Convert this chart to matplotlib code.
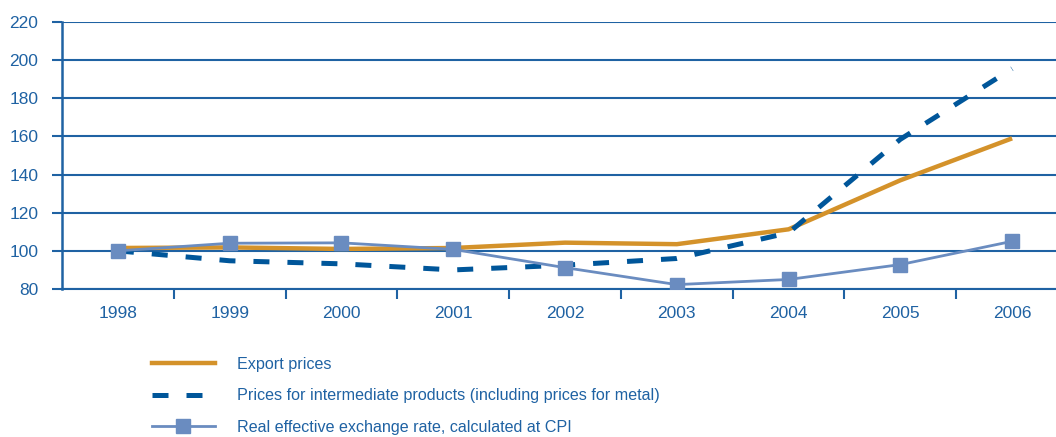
import matplotlib
matplotlib.use("Agg")
import matplotlib.pyplot as plt
from matplotlib.lines import Line2D

years = ["1998", "1999", "2000", "2001", "2002", "2003", "2004", "2005", "2006"]
export_prices = [101.5, 101.8, 101.0, 101.5, 104.3, 103.5, 111.3, 137.0, 159.0]
intermediate_prices = [100.0, 94.8, 93.2, 90.0, 92.5, 96.0, 109.5, 158.5, 195.5]
real_exchange_rate = [100.0, 104.0, 104.2, 100.8, 91.2, 82.3, 85.0, 92.8, 105.0]
y_ticks = [80, 100, 120, 140, 160, 180, 200, 220]

ORANGE = "#D4922A"
DARK = "#00569A"
LIGHT = "#6A8CC0"
AXC = "#1F62A3"

plt.rcParams['font.family'] = ['Liberation Sans Narrow', 'Liberation Sans', 'DejaVu Sans']

W, H = 1056, 437
fig = plt.figure(figsize=(W / 100, H / 100), dpi=100)
left, right, top, bottom = 62, 1068, 22, 289
ax = fig.add_axes([left / W, 1 - bottom / H, (right - left) / W, (bottom - top) / H])

x = list(range(len(years)))
ax.plot(x, export_prices, color=ORANGE, lw=3.2, solid_capstyle='butt', zorder=3)
ax.plot(x, intermediate_prices, color=DARK, lw=3.6, dashes=(3.2, 3.6), zorder=4)
ax.plot(x, real_exchange_rate, color=LIGHT, lw=2.0, marker='s', markersize=10,
        markerfacecolor=LIGHT, markeredgecolor=LIGHT, zorder=5)

ax.set_xlim(-0.5, len(years) - 0.5)
ax.set_ylim(80, 220)
ax.set_yticks(y_ticks)
ax.set_yticklabels([str(v) for v in y_ticks])
ax.set_xticks([i + 0.5 for i in range(len(years) - 1)])
ax.set_xticklabels([])
ax.set_xticks(x, minor=True)
ax.set_xticklabels(years, minor=True)
ax.tick_params(axis='x', which='major', length=7, width=1.5, color=AXC, direction='out')
ax.tick_params(axis='x', which='minor', length=0, pad=12, labelsize=12.5, labelcolor=AXC)
ax.tick_params(axis='y', length=7, width=1.5, color=AXC, labelsize=12.5, labelcolor=AXC, pad=10)
ax.grid(axis='y', color=AXC, lw=1.5, zorder=0)
for s in ['top', 'right']:
    ax.spines[s].set_visible(False)
ax.spines['left'].set_color(AXC)
ax.spines['left'].set_linewidth(1.8)
ax.spines['bottom'].set_color(AXC)
ax.spines['bottom'].set_linewidth(1.5)

handles = [
    Line2D([], [], color=ORANGE, lw=3.2),
    Line2D([], [], color=DARK, lw=3.6, dashes=(3.2, 3.6)),
    Line2D([], [], color=LIGHT, lw=2.0, marker='s', markersize=10),
]
labels = ["Export prices",
          "Prices for intermediate products (including prices for metal)",
          "Real effective exchange rate, calculated at CPI"]
leg = fig.legend(handles, labels, loc='upper left', bbox_to_anchor=(152 / W, 1 - 357 / H),
                 frameon=False, fontsize=11.6, handlelength=3.9, handletextpad=1.4,
                 labelspacing=1.02, borderaxespad=0, borderpad=0)
for t in leg.get_texts():
    t.set_color(AXC)

fig.savefig("out.png", dpi=100)
